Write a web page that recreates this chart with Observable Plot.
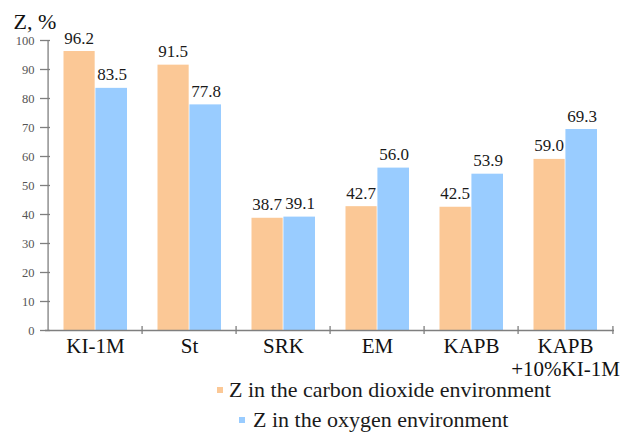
<!DOCTYPE html>
<html>
<head>
<meta charset="utf-8">
<script src="https://cdn.jsdelivr.net/npm/d3@7"></script>
<script src="https://cdn.jsdelivr.net/npm/@observablehq/plot@0.6"></script>
<style>
  body { margin: 0; background: white; font-family: 'Liberation Serif', 'Times New Roman', serif; }
  #legend { font-family: 'Liberation Serif', 'Times New Roman', serif; font-size: 22px; color: #1a1a1a; padding-top: 3px; }
  .item { height: 30px; display: flex; align-items: center; white-space: nowrap; }
  .sw { width: 6px; height: 6px; display: inline-block; margin-right: 6px; }
</style>
</head>
<body>
<div id="chart"></div>
<div id="legend"></div>
<script>
const categories = ["KI-1M", "St", "SRK", "EM", "KAPB", "KAPB\n+10%KI-1M"];
const co2Values = [96.2, 91.5, 38.7, 42.7, 42.5, 59.0];
const o2Values = [83.5, 77.8, 39.1, 56.0, 53.9, 69.3];
const yTicks = [0, 10, 20, 30, 40, 50, 60, 70, 80, 90, 100];
const seriesNames = ["Z in the carbon dioxide environment", "Z in the oxygen environment"];
const colors = ["#fbc896", "#99ccff"];

const rows = categories.map((c, i) => ({cat: c, co2: co2Values[i], o2: o2Values[i]}));

const W = 623, H = 372, ml = 45, mr = 9, mt = 40, mb = 42;
const bw = (W - ml - mr) / categories.length;
const axisGray = "#7f7f7f";
const serif = "'Liberation Serif', 'Times New Roman', serif";

const chart = Plot.plot({
  width: W, height: H,
  marginLeft: ml, marginRight: mr, marginTop: mt, marginBottom: mb,
  style: {fontFamily: serif, background: "white", overflow: "visible"},
  x: {domain: categories, padding: 0, label: null},
  y: {domain: [0, 100], label: null},
  marks: [
    Plot.barY(rows, {x: "cat", y: "co2", fill: colors[0], insetLeft: 15.5, insetRight: bw - 47.5}),
    Plot.barY(rows, {x: "cat", y: "o2", fill: colors[1], insetLeft: bw / 2, insetRight: 15}),
    Plot.ruleY([0], {stroke: axisGray, strokeWidth: 1.3}),
    Plot.ruleX([categories[0]], {y1: 0, y2: 100, dx: -bw / 2, stroke: axisGray, strokeWidth: 1.3}),
    Plot.ruleX(categories.slice(1), {y1: -1.4, y2: 1.4, dx: -bw / 2, stroke: axisGray, strokeWidth: 1.3}),
    Plot.ruleX([categories[categories.length - 1]], {y1: -1.4, y2: 1.4, dx: bw / 2, stroke: axisGray, strokeWidth: 1.3}),
    Plot.axisY({ticks: yTicks, tickSize: 10, dx: 5, text: null, stroke: axisGray, strokeWidth: 1.3}),
    Plot.axisY({ticks: yTicks, tickSize: 0, tickPadding: 11, fontSize: 12.5, fill: "#555"}),
    Plot.axisX({tickSize: 0, tickPadding: 6, fontSize: 21, fill: "#111", lineHeight: 1.1}),
    Plot.text(rows, {x: "cat", y: "co2", text: d => d.co2.toFixed(1), dx: -16.5, dy: -8, lineAnchor: "bottom", fontSize: 17, fill: "#1a1a1a"}),
    Plot.text(rows, {x: "cat", y: "o2", text: d => d.o2.toFixed(1), dx: 16.5, dy: -8, lineAnchor: "bottom", fontSize: 17, fill: "#1a1a1a"}),
    Plot.text(["Z, %"], {frameAnchor: "top-left", textAnchor: "start", lineAnchor: "middle", dx: -32, dy: -19, fontSize: 22, fill: "#111"})
  ]
});
document.getElementById("chart").appendChild(chart);

const legend = document.getElementById("legend");
const offsets = [217, 239];
seriesNames.forEach((name, i) => {
  const item = document.createElement("div");
  item.className = "item";
  item.style.marginLeft = offsets[i] + "px";
  const sw = document.createElement("span");
  sw.className = "sw";
  sw.style.background = colors[i];
  if (i === 1) sw.style.marginRight = "8px";
  item.appendChild(sw);
  item.appendChild(document.createTextNode(name));
  legend.appendChild(item);
});
</script>
</body>
</html>
